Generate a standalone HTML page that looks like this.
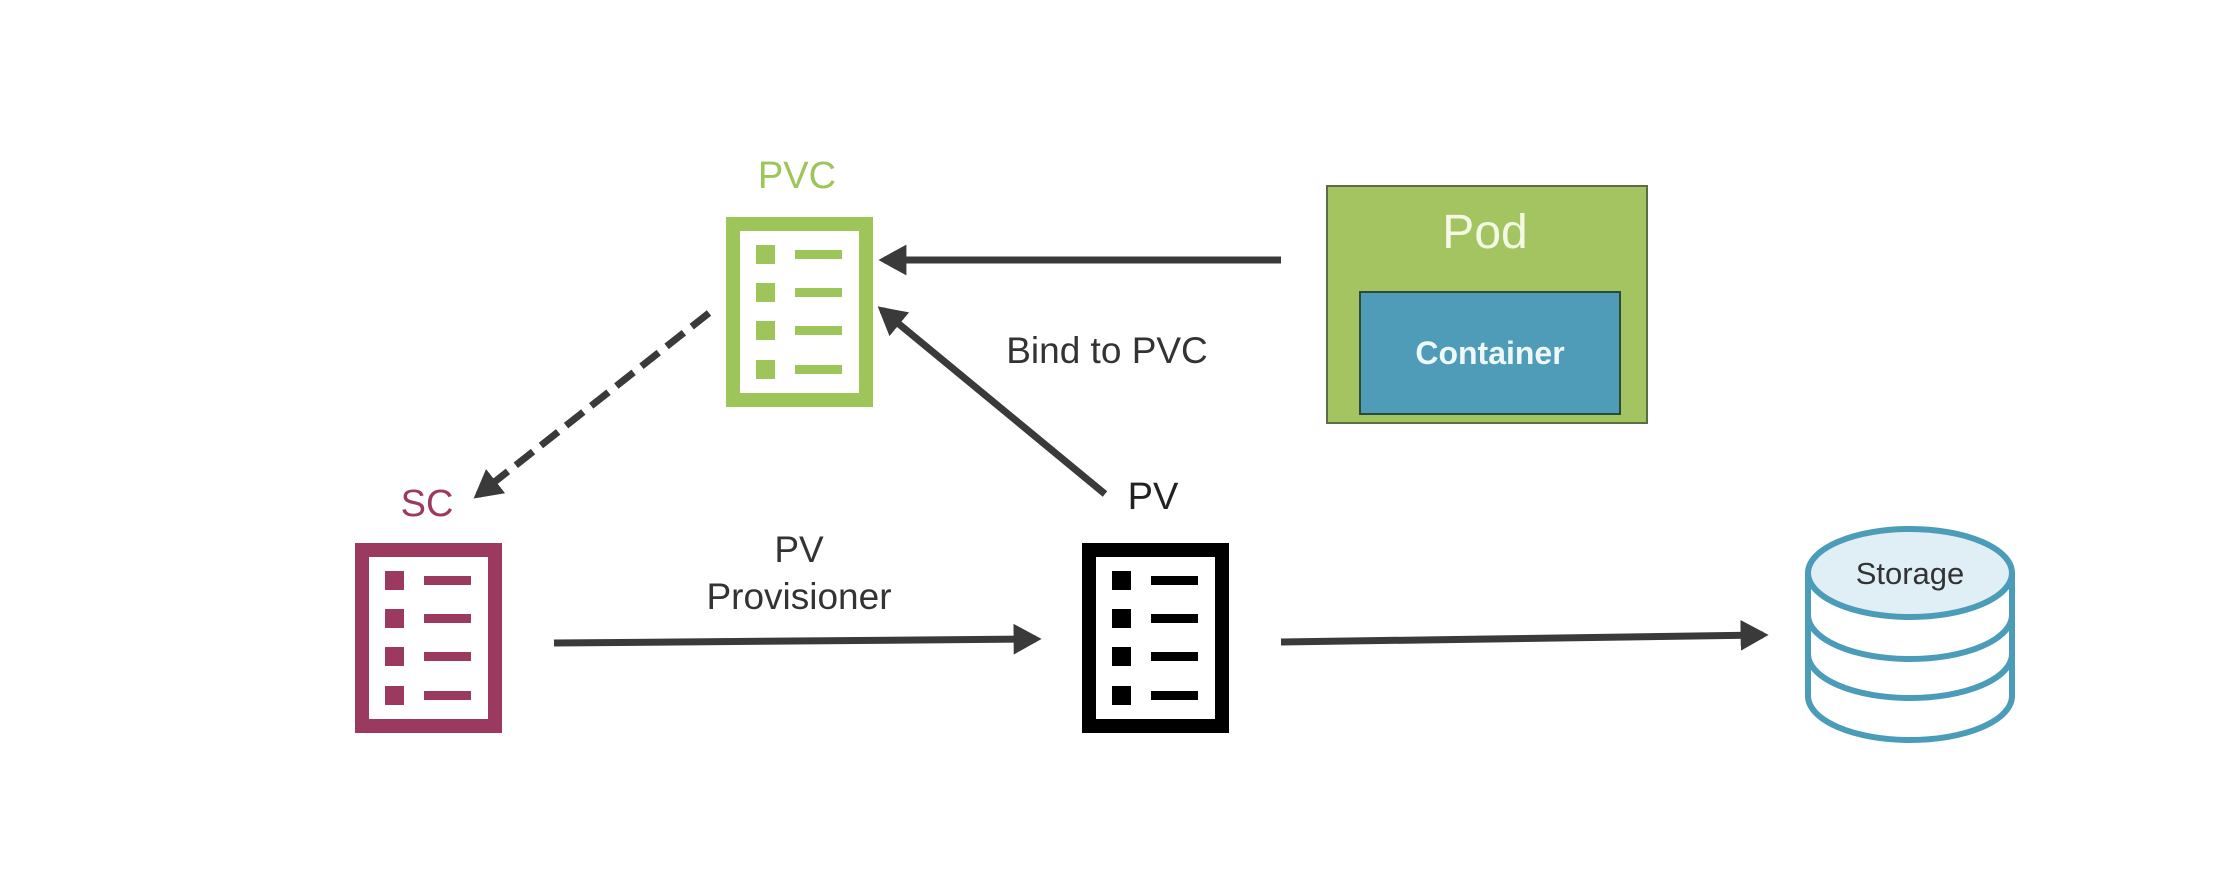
<!DOCTYPE html>
<html><head><style>
body{margin:0;background:#fff;}
svg{display:block}
text{font-family:"Liberation Sans",sans-serif}
</style></head><body>
<svg width="2232" height="890" viewBox="0 0 2232 890" xmlns="http://www.w3.org/2000/svg">
<defs>
<g id="icon">
  <rect x="7" y="7" width="133" height="176" fill="#fff" stroke="currentColor" stroke-width="14"/>
  <rect x="30" y="28" width="19" height="19" fill="currentColor"/>
  <rect x="30" y="66" width="19" height="19" fill="currentColor"/>
  <rect x="30" y="104" width="19" height="19" fill="currentColor"/>
  <rect x="30" y="143" width="19" height="19" fill="currentColor"/>
  <rect x="69" y="33" width="47" height="9" fill="currentColor"/>
  <rect x="69" y="71" width="47" height="9" fill="currentColor"/>
  <rect x="69" y="109" width="47" height="9" fill="currentColor"/>
  <rect x="69" y="148" width="47" height="9" fill="currentColor"/>
</g>
<marker id="ah" markerWidth="4" markerHeight="4.4" refX="3.2" refY="2.2" orient="auto" markerUnits="strokeWidth">
  <path d="M0,0 L4,2.2 L0,4.4 z" fill="#3a3a3a"/>
</marker>
</defs>

<!-- PVC -->
<text x="797" y="188" font-size="38" fill="#9dc55a" text-anchor="middle">PVC</text>
<use href="#icon" x="726" y="217" style="color:#9dc55a"/>

<!-- Pod -->
<rect x="1327" y="186" width="320" height="237" fill="#a3c460" stroke="#5a6e45" stroke-width="2"/>
<text x="1485" y="248" font-size="48" fill="#f4f9e6" text-anchor="middle">Pod</text>
<rect x="1360" y="292" width="260" height="122" fill="#4e9cb7" stroke="#2c4a3a" stroke-width="2"/>
<text x="1490" y="364" font-size="32" font-weight="bold" fill="#eef8f8" text-anchor="middle">Container</text>

<!-- Arrows -->
<line x1="1281" y1="260" x2="884" y2="260" stroke="#3a3a3a" stroke-width="7" marker-end="url(#ah)"/>
<line x1="1105" y1="494" x2="882" y2="310" stroke="#3a3a3a" stroke-width="7" marker-end="url(#ah)"/>
<line x1="709" y1="313" x2="478" y2="495" stroke="#3a3a3a" stroke-width="7" stroke-dasharray="22,10" marker-end="url(#ah)"/>
<line x1="554" y1="643" x2="1036" y2="639" stroke="#3a3a3a" stroke-width="7" marker-end="url(#ah)"/>
<line x1="1281" y1="642" x2="1763" y2="635" stroke="#3a3a3a" stroke-width="7" marker-end="url(#ah)"/>

<text x="1107" y="363" font-size="37" fill="#333" text-anchor="middle">Bind to PVC</text>

<!-- SC -->
<text x="427" y="516" font-size="38" fill="#9b3a5e" text-anchor="middle">SC</text>
<use href="#icon" x="355" y="543" style="color:#9b3a5e"/>

<!-- PV -->
<text x="1153" y="509" font-size="38" fill="#222" text-anchor="middle">PV</text>
<use href="#icon" x="1082" y="543" style="color:#000"/>

<text x="799" y="562" font-size="37" fill="#333" text-anchor="middle">PV</text>
<text x="799" y="609" font-size="37" fill="#333" text-anchor="middle">Provisioner</text>

<!-- Storage -->
<g fill="#fff" stroke="#4b9cb9" stroke-width="6">
  <path d="M1808,573 L1808,696 A102,44 0 0 0 2012,696 L2012,573"/>
  <path d="M1808,615 A102,44 0 0 0 2012,615" fill="none"/>
  <path d="M1808,654 A102,44 0 0 0 2012,654" fill="none"/>
  <ellipse cx="1910" cy="573" rx="102" ry="44" fill="#e0eff5"/>
</g>
<text x="1910" y="584" font-size="31" fill="#333" text-anchor="middle">Storage</text>
</svg>
</body></html>
